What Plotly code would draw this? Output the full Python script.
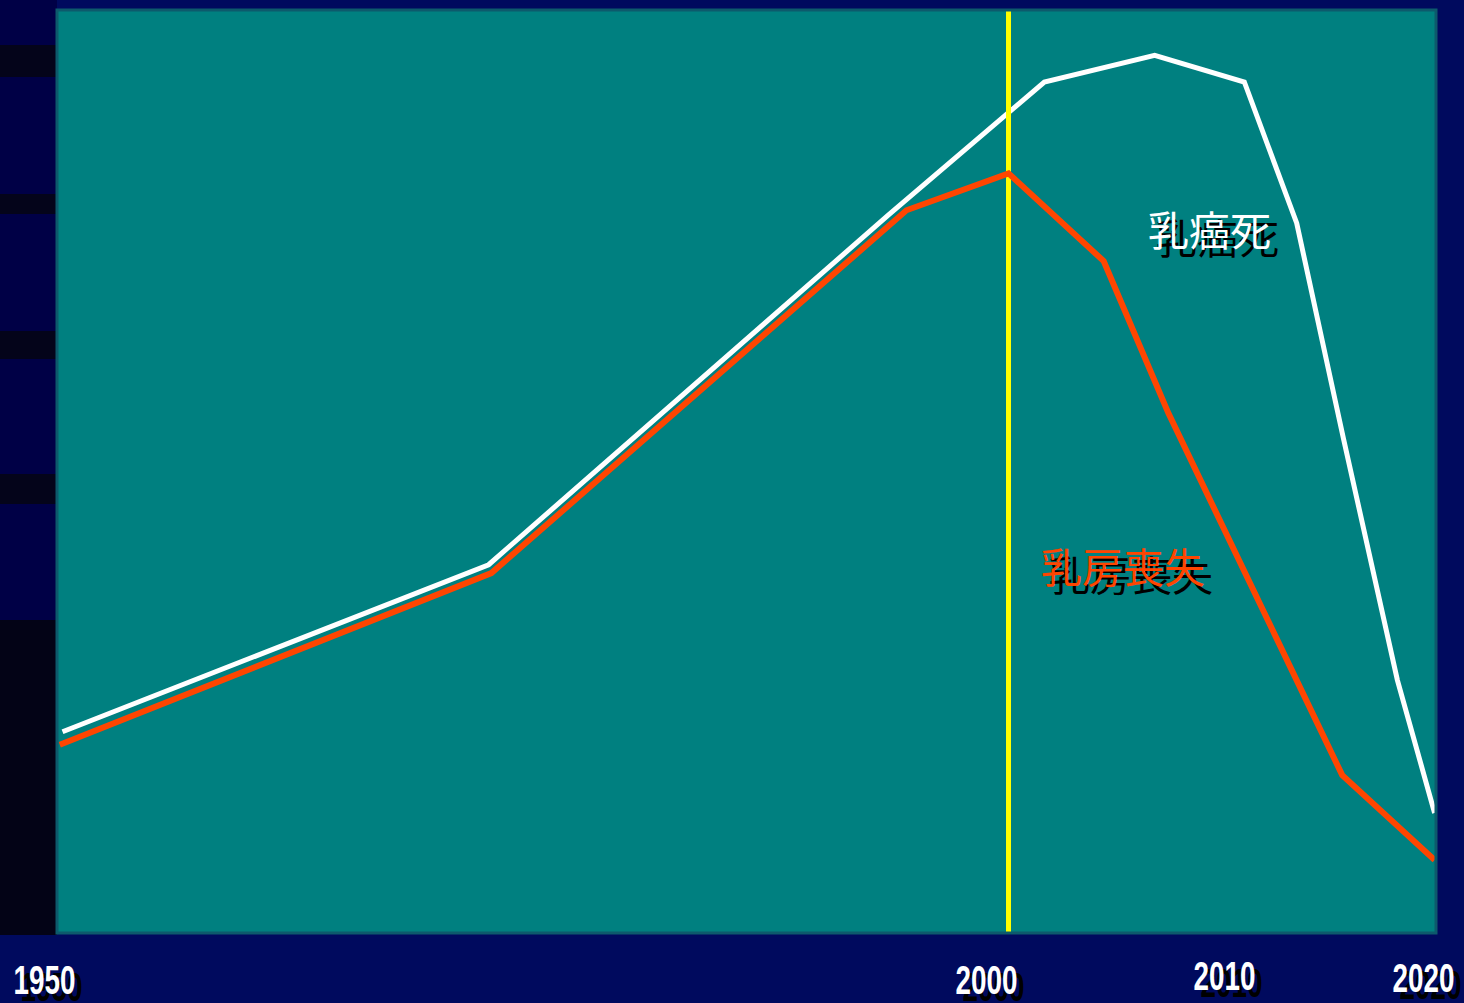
import json
import plotly.graph_objects as go

# Schematic time axis (0 = left edge of the panel, 100 = right edge)
pos_death = [0.4, 31.3, 60.3, 71.6, 79.6, 86.1, 89.9, 93.3, 97.2, 99.9]
breast_cancer_death = [21.8, 39.9, 77.8, 92.2, 95.1, 92.2, 76.9, 53.5, 27.4, 13.0]

pos_loss = [0.2, 31.5, 61.6, 69.0, 75.9, 80.6, 93.2, 99.9]
breast_loss = [20.4, 39.0, 78.3, 82.3, 72.8, 56.3, 17.1, 7.9]

marker_pos = 69.0  # year 2000

tick_labels = ["1950", "2000", "2010", "2020"]
tick_pos = [-0.94, 67.37, 84.63, 99.06]
tick_y = [-0.051, -0.051, -0.047, -0.049]

label_death = "乳癌死"
label_loss = "乳房喪失"

W, H = 1464, 1003
ML, MR, MT, MB = 57, 28, 10, 70
PW, PH = W - ML - MR, H - MT - MB

NAVY = "#000a5e"
TEAL = "#008080"
ORANGE = "#ff4500"


def px_x(px):
    return (px - ML) / PW


def px_y(py):
    return (H - MB - py) / PH


fig = go.Figure()

fig.add_trace(go.Scatter(x=pos_death, y=breast_cancer_death, mode="lines",
                         line=dict(color="white", width=5), hoverinfo="skip"))
fig.add_trace(go.Scatter(x=[marker_pos, marker_pos], y=[-0.4, 100.3], mode="lines",
                         line=dict(color="#ffff00", width=5), hoverinfo="skip"))
fig.add_trace(go.Scatter(x=pos_loss, y=breast_loss, mode="lines",
                         line=dict(color=ORANGE, width=6), hoverinfo="skip"))

shapes = []
# darker band with stripes down the left margin
shapes.append(dict(type="rect", xref="paper", yref="paper", layer="below",
                   x0=px_x(0), x1=px_x(ML), y0=px_y(620), y1=px_y(0),
                   fillcolor="#000046", line=dict(width=0)))
for y0, y1 in [(45, 77), (194, 214), (331, 359), (474, 504)]:
    shapes.append(dict(type="rect", xref="paper", yref="paper", layer="below",
                       x0=px_x(0), x1=px_x(ML), y0=px_y(y1), y1=px_y(y0),
                       fillcolor="#04041a", line=dict(width=0)))
shapes.append(dict(type="rect", xref="paper", yref="paper", layer="below",
                   x0=px_x(0), x1=px_x(ML), y0=px_y(935), y1=px_y(620),
                   fillcolor="#030316", line=dict(width=0)))
# panel frame
shapes.append(dict(type="rect", xref="paper", yref="paper", layer="above",
                   x0=0, x1=1, y0=0, y1=1, line=dict(color="#0d5a6c", width=3)))

annotations = []
shadow = "#000000"
tick_font = "Liberation Sans, Arial, sans-serif"
for txt, x, y in zip(tick_labels, tick_pos, tick_y):
    for color, dx, dy in [(shadow, 7, -7), ("white", 0, 0)]:
        annotations.append(dict(text=txt, x=px_x(ML + x * PW / 100), y=y,
                                xref="paper", yref="paper",
                                xanchor="center", yanchor="middle",
                                showarrow=False, xshift=dx, yshift=dy,
                                font=dict(family=tick_font, size=41, color=color,
                                          weight="bold")))

cjk = "Noto Sans CJK JP, Noto Sans CJK SC, sans-serif"
for txt, x, y, col in [(label_death, 83.6, 76.4, "white"), (label_loss, 77.3, 39.9, ORANGE)]:
    for color, dx, dy in [(shadow, 8, -8), (col, 0, 0)]:
        annotations.append(dict(text=txt, x=x, y=y, xref="x", yref="y",
                                xanchor="center", yanchor="middle",
                                showarrow=False, xshift=dx, yshift=dy,
                                font=dict(family=cjk, size=41, color=color)))

fig.update_layout(
    width=W, height=H,
    margin=dict(l=ML, r=MR, t=MT, b=MB),
    paper_bgcolor=NAVY, plot_bgcolor=TEAL,
    showlegend=False,
    shapes=shapes, annotations=annotations,
    xaxis=dict(range=[0, 100], visible=False, fixedrange=True),
    yaxis=dict(range=[0, 100], visible=False, fixedrange=True),
)

# narrow the year labels horizontally (condensed lettering)
condense_js = """
var labels = %s;
var gd = document.getElementById('{plot_id}');
gd.querySelectorAll('text.annotation-text').forEach(function (t) {
  if (labels.indexOf(t.textContent.trim()) >= 0) {
    t.style.transformBox = 'fill-box';
    t.style.transformOrigin = 'center';
    t.style.transform = 'scaleX(0.68)';
  }
});
""" % json.dumps(tick_labels)

fig.write_html("out.html", config=dict(displayModeBar=False), post_script=condense_js)
